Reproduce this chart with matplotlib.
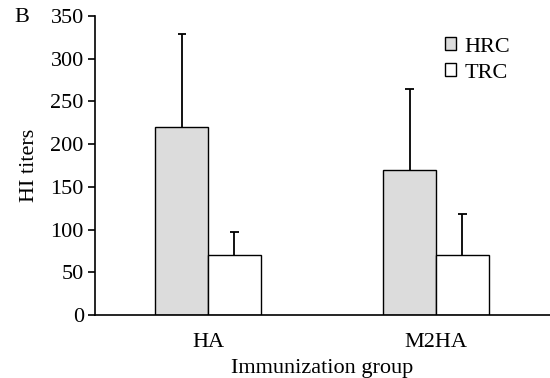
import matplotlib
matplotlib.use("Agg")
import matplotlib.pyplot as plt
from matplotlib.patches import Patch
import numpy as np

plt.rcParams["font.family"] = ["Liberation Serif", "DejaVu Serif"]

groups = ["HA", "M2HA"]
series = ["HRC", "TRC"]
hrc = [220, 170]
hrc_err = [109, 95]
trc = [70, 70]
trc_err = [27, 48]
colors = ["#dcdcdc", "white"]

fig = plt.figure(figsize=(5.5, 3.78), dpi=100)
ax = fig.add_axes([0.1727, 0.1667, 0.8273, 0.791])

x = np.arange(len(groups))
w = 0.232
cap = 0.018
for i, (vals, errs) in enumerate([(hrc, hrc_err), (trc, trc_err)]):
    xs = x + (i - 0.5) * w
    vals = np.array(vals)
    tops = vals + np.array(errs)
    ax.bar(xs, vals, w, color=colors[i], edgecolor="black", linewidth=1.0, zorder=2)
    # upper error bars only
    ax.vlines(xs, vals, tops, color="black", linewidth=1.3, zorder=3)
    ax.hlines(tops, xs - cap, xs + cap, color="black", linewidth=1.3, zorder=3)

ax.set_xlim(-0.496, 1.5)
ax.set_ylim(0, 350)
ax.set_yticks(range(0, 351, 50))
ax.set_xticks(x)
ax.set_xticklabels(groups)
ax.tick_params(axis="x", length=0, labelsize=16, pad=13)
ax.tick_params(axis="y", direction="out", length=5, width=1.2, labelsize=16, pad=3)
for s in ["top", "right"]:
    ax.spines[s].set_visible(False)
ax.spines["left"].set_linewidth(1.2)
ax.spines["bottom"].set_linewidth(1.2)

ax.set_ylabel("HI titers", fontsize=16, labelpad=8)
ax.set_xlabel("Immunization group", fontsize=16, labelpad=5)

handles = [Patch(facecolor=c, edgecolor="black", linewidth=1.0) for c in colors]
ax.legend(handles, series, loc="upper left", bbox_to_anchor=(0.725, 0.995),
          frameon=False, fontsize=16, handlelength=0.5, handleheight=0.5,
          handletextpad=0.4, labelspacing=0.3)

fig.text(0.027, 0.955, "B", fontsize=16, ha="left", va="center")

fig.savefig("out.png", dpi=100)
